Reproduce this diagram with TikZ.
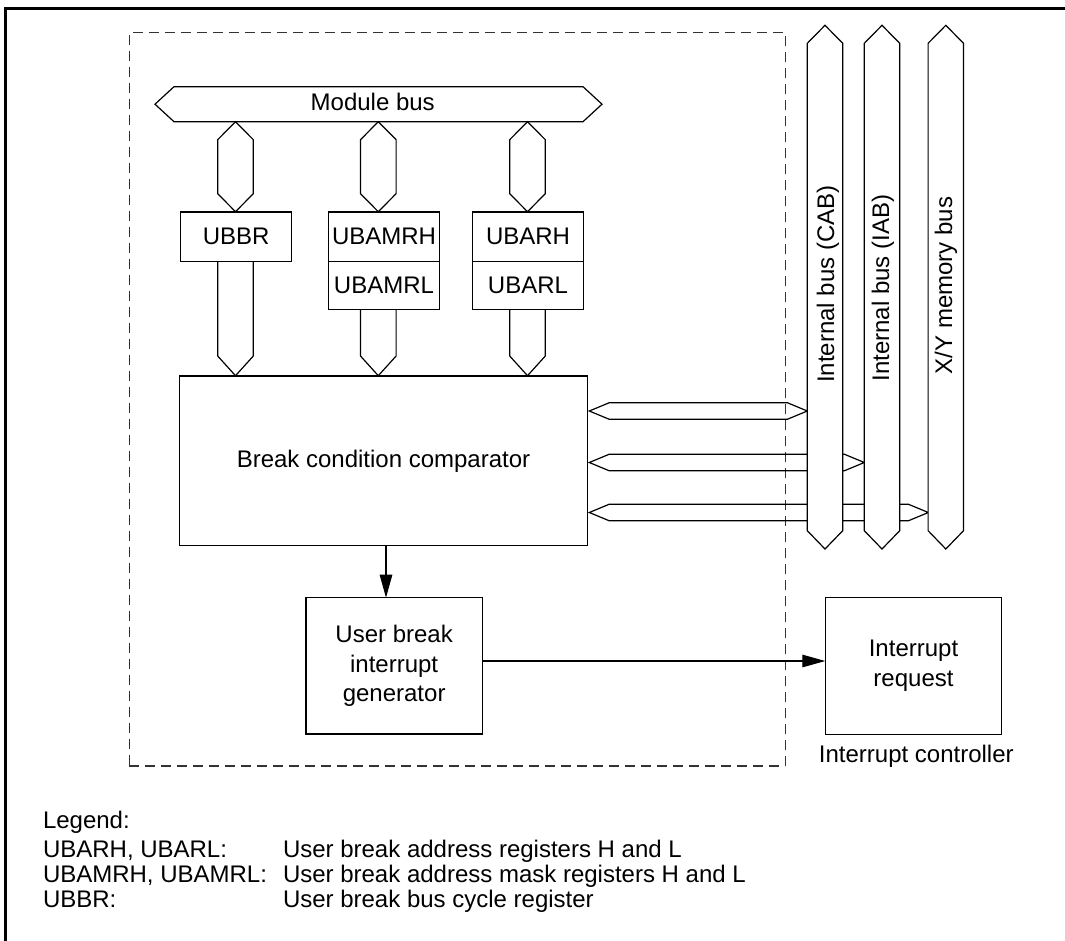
\documentclass[tikz,border=0pt]{standalone}
\usepackage{fontspec}
\setmainfont{Liberation Sans}
\usetikzlibrary{arrows.meta}
\newcommand\UpConn[1]{\draw[bus] (#1,121.7) -- (#1+17.8,139.7) -- (#1+17.8,193.7) -- (#1,211.7) -- (#1-17.8,193.7) -- (#1-17.8,139.7) -- cycle;}
\newcommand\DownConn[2]{\draw[bus] (#1-17.8,#2) -- (#1-17.8,356) -- (#1,375.7) -- (#1+17.8,356) -- (#1+17.8,#2);}
\newcommand\HBus[2]{\draw[bus] (589.3,#1) -- (609.3,#1-8.3) -- (#2-20,#1-8.3) -- (#2,#1) -- (#2-20,#1+8.3) -- (609.3,#1+8.3) -- cycle;}
\newcommand\VBus[1]{\draw[bus,fill=white] (#1,25.3) -- (#1+17.7,43.3) -- (#1+17.7,530.7) -- (#1,549) -- (#1-17.7,530.7) -- (#1-17.7,43.3) -- cycle;}
\begin{document}
\begin{tikzpicture}[x=1pt,y=-1pt,
  line width=1.2pt,
  every node/.style={font=\fontsize{24}{29.5}\selectfont, inner sep=0pt, outer sep=0pt},
  box/.style={draw, rectangle, align=center},
  bus/.style={draw, line join=miter},
  arr/.style={-{Triangle[length=23pt,width=12.5pt]}},
  frameline/.style={line width=2.2pt},
  dashbox/.style={draw=black!80, dash pattern=on 10pt off 6pt},
  legend/.style={anchor=base west}
]
\useasboundingbox (0,0) rectangle (1065,940);
% frame
\draw[frameline] (5.5,950) -- (5.5,8.5) -- (1075,8.5);
% dashed module boundary
\node[dashbox, minimum width=656pt, minimum height=733.7pt] (ubc) at (457.3,399.15) {};
% module bus
\draw[bus] (155,104.2) -- (174,86.7) -- (583,86.7) -- (602,104.2) -- (583,121.7) -- (174,121.7) -- cycle;
\node[anchor=base] (mbus) at (372.7,110) {Module bus};
% registers
\node[box, minimum width=111pt, minimum height=49.7pt] (ubbr) at (236.2,236.85) {UBBR};
\node[box, minimum width=110.6pt, minimum height=49.7pt] (ubamrh) at (384,236.85) {UBAMRH};
\node[box, minimum width=110.6pt, minimum height=47.6pt] (ubamrl) at (384,285.5) {UBAMRL};
\node[box, minimum width=110.6pt, minimum height=49.7pt] (ubarh) at (528,236.85) {UBARH};
\node[box, minimum width=110.6pt, minimum height=47.6pt] (ubarl) at (528,285.5) {UBARL};
% bus connectors
\UpConn{235.5}
\UpConn{378.3}
\UpConn{527.5}
\DownConn{235.5}{261.7}
\DownConn{378.3}{309.3}
\DownConn{527.5}{309.3}
% comparator
\node[box, minimum width=408.4pt, minimum height=169.7pt] (comp) at (383.5,460.85) {Break condition comparator};
% horizontal buses to internal buses
\HBus{411}{807.3}
\HBus{462.5}{864.3}
\HBus{512.5}{928.3}
% vertical buses
\VBus{825}
\VBus{882}
\VBus{945.8}
\node[rotate=90, anchor=base] (cab) at (834.2,284) {Internal bus (CAB)};
\node[rotate=90, anchor=base] (iab) at (889.2,288) {Internal bus (IAB)};
\node[rotate=90, anchor=base] (xy) at (952.2,285.5) {X/Y memory bus};
% generator and interrupt controller
\node[box, minimum width=176.3pt, minimum height=136.3pt] (gen) at (394.15,665.85) {User break\\interrupt\\generator};
\node[box, minimum width=176.4pt, minimum height=137pt] (irq) at (913.5,665.8) {Interrupt\\request};
\node[anchor=base] (ctl) at (916.3,762.7) {Interrupt controller};
\coordinate (ax) at (386,0);
\coordinate (ay) at (0,661);
\draw[arr] (comp.south -| ax) -- (gen.north -| ax);
\draw[arr] (gen.east |- ay) -- (irq.west |- ay);
% legend
\node[legend] (lg) at (43,828.3) {Legend:};
\node[legend] (l1a) at (43,857.3) {UBARH, UBARL:};
\node[legend] (l1b) at (283,857.3) {User break address registers H and L};
\node[legend] (l2a) at (43,882.3) {UBAMRH, UBAMRL:};
\node[legend] (l2b) at (283,882.3) {User break address mask registers H and L};
\node[legend] (l3a) at (43,907.3) {UBBR:};
\node[legend] (l3b) at (283,907.3) {User break bus cycle register};
\end{tikzpicture}
\end{document}
